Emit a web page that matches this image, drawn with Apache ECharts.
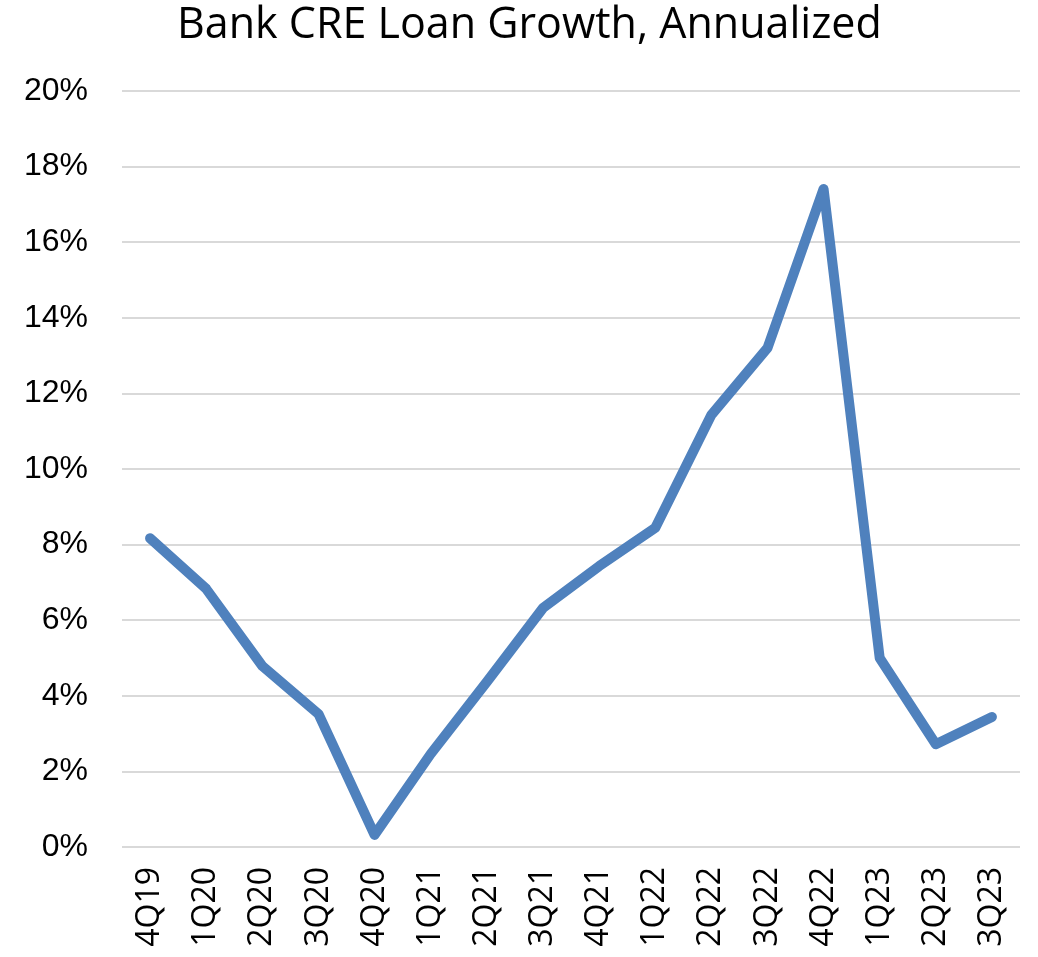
<!DOCTYPE html>
<html>
<head>
<meta charset="utf-8">
<script src="https://cdn.jsdelivr.net/npm/echarts@6/dist/echarts.min.js"></script>
<style>
  html, body { margin: 0; padding: 0; background: #fff; }
  #chart { width: 1038px; height: 957px; }
</style>
</head>
<body>
<div id="chart"></div>
<script>
// quarters on the x axis
const quarters = ['4Q19', '1Q20', '2Q20', '3Q20', '4Q20', '1Q21', '2Q21', '3Q21',
  '4Q21', '1Q22', '2Q22', '3Q22', '4Q22', '1Q23', '2Q23', '3Q23'];
// annualized growth, percent
const growth = [8.17, 6.83, 4.79, 3.52, 0.32, 2.46, 4.37, 6.32,
  7.43, 8.44, 11.43, 13.2, 17.41, 5.0, 2.72, 3.44];

const myChart = echarts.init(document.getElementById('chart'));
myChart.setOption({
  animation: false,
  title: {
    text: 'Bank CRE Loan Growth, Annualized',
    left: 172,
    top: -1,
    textStyle: {
      color: '#000',
      fontSize: 43,
      fontWeight: 'normal',
      fontFamily: '"Liberation Sans Narrow", "Open Sans", sans-serif'
    }
  },
  grid: {
    left: 122,
    right: 18,
    top: 91,
    bottom: 110
  },
  xAxis: {
    type: 'category',
    data: quarters,
    boundaryGap: true,
    axisLine: { show: false },
    axisTick: { show: false },
    axisLabel: {
      rotate: 90,
      margin: 20,
      color: '#000',
      fontSize: 32,
      fontFamily: '"Open Sans", sans-serif'
    }
  },
  yAxis: {
    type: 'value',
    min: 0,
    max: 20,
    interval: 2,
    axisLine: { show: false },
    axisTick: { show: false },
    splitLine: { lineStyle: { color: '#d9d9d9', width: 2 } },
    axisLabel: {
      formatter: '{value}%',
      margin: 34,
      color: '#000',
      fontSize: 32,
      fontFamily: '"Liberation Sans", sans-serif'
    }
  },
  series: [{
    type: 'line',
    data: growth,
    symbol: 'none',
    lineStyle: { color: '#4f81bd', width: 10, cap: 'round', join: 'round' }
  }]
});
</script>
</body>
</html>
